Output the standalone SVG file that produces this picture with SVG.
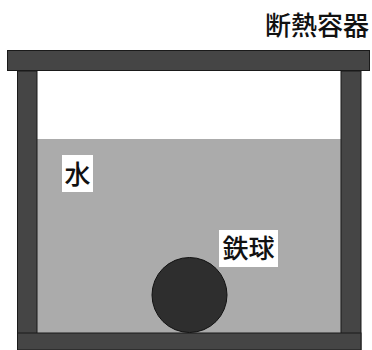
<svg xmlns="http://www.w3.org/2000/svg" width="372" height="350" viewBox="0 0 372 350">
<style>
.wall{fill:#454545;stroke:#1a1a1a;stroke-width:1}
.lbl{font-family:"Noto Sans CJK JP","Noto Sans CJK SC",sans-serif;font-size:26px;font-weight:500;fill:#111}
.box{fill:#fff}
</style>
<rect width="372" height="350" fill="#fff"/>
<g id="water"><rect x="37" y="139" width="304" height="194" fill="#ababab"/></g>
<g id="container">
<rect class="wall" x="7.5" y="50.5" width="362" height="20"/>
<rect class="wall" x="17.5" y="71" width="19.5" height="279"/>
<rect class="wall" x="341" y="71" width="20" height="279"/>
<rect class="wall" x="17.5" y="333" width="343.5" height="17"/>
</g>
<g id="ball"><circle cx="189.5" cy="295" r="37.5" fill="#2e2e2e" stroke="#111" stroke-width="1"/></g>
<g id="label-water"><rect class="box" x="62" y="155" width="31" height="37"/><text class="lbl" x="77.5" y="184" text-anchor="middle">水</text></g>
<g id="label-ball"><rect class="box" x="219" y="230" width="59" height="37"/><text class="lbl" x="248.5" y="258" text-anchor="middle">鉄球</text></g>
<g id="title"><text class="lbl" x="369" y="35" text-anchor="end">断熱容器</text></g>
</svg>
